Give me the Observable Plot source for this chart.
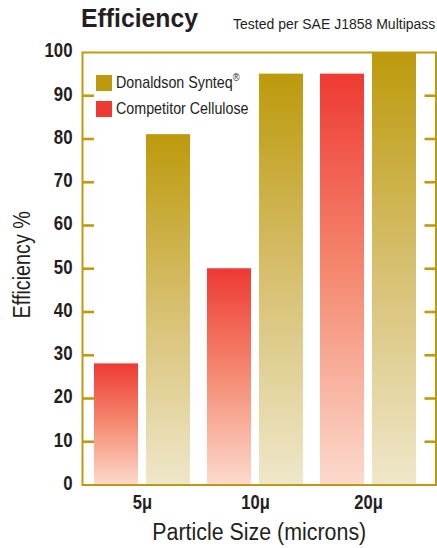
<!DOCTYPE html>
<html>
<head>
<meta charset="utf-8">
<script src="https://cdn.jsdelivr.net/npm/d3@7"></script>
<script src="https://cdn.jsdelivr.net/npm/@observablehq/plot@0.6"></script>
<style>
  html, body { margin: 0; padding: 0; background: #fff; }
  #wrap { position: relative; width: 437px; height: 548px; overflow: hidden;
          font-family: "Liberation Sans", Arial, sans-serif; color: #231f20; }
  #header { position: relative; height: 30px; }
  #title { position: absolute; left: 81px; top: 4.6px; font-size: 26.5px; font-weight: bold; line-height: 1;
           white-space: nowrap; transform: scaleX(0.935); transform-origin: 0 50%; }
  #subtitle { position: absolute; left: 233px; top: 17.4px; font-size: 14px; line-height: 1; white-space: nowrap; }
  #chart svg { display: block; }
  #legend { position: absolute; left: 96px; top: 73px; }
  #legend * { overflow: visible !important; text-overflow: clip !important; }
  #legend .lg-swatch { padding-bottom: 6px !important; font-size: 17px; line-height: 20px; color: #231f20; }
  #legend .lg-swatch svg { margin-right: 4px !important; }
  #legend .lg-swatches { margin: 0 !important; min-height: 0 !important; }
  #legend .lbl { display: inline-block; white-space: nowrap; transform: scaleX(0.84); transform-origin: 0 50%; }
  #legend .lbl sup { font-size: 0.65em; line-height: 0; vertical-align: 0.6em; }
</style>
</head>
<body>
<div id="wrap">
  <div id="header">
    <div id="title">Efficiency</div>
    <div id="subtitle">Tested per SAE J1858 Multipass</div>
  </div>
  <div id="chart"></div>
  <div id="legend"></div>
</div>
<script>
// ---- data ----
const categories = ["5μ", "10μ", "20μ"];
const seriesNames = ["Donaldson Synteq®", "Competitor Cellulose"];
const donaldson = [81, 95, 100];
const competitor = [28, 50, 95];
const yTicks = [0, 10, 20, 30, 40, 50, 60, 70, 80, 90, 100];
const innerTicks = [10, 20, 30, 40, 50, 60, 70, 80, 90];
const yLabel = "Efficiency %";
const xLabel = "Particle Size (microns)";

const gold = "#bd9a0b";
const red = "#ee3a33";
const frameColor = "#be9a10";
const ink = "#231f20";
const font = '"Liberation Sans", Arial, sans-serif';

const donaldsonData = categories.map((c, i) => ({category: c, value: donaldson[i]}));
const competitorData = categories.map((c, i) => ({category: c, value: competitor[i]}));

// gradient definitions (a function mark)
function gradients() {
  const defs = d3.create("svg:defs");
  const g1 = defs.append("linearGradient").attr("id", "gradD").attr("x1", 0).attr("y1", 0).attr("x2", 0).attr("y2", 1);
  g1.append("stop").attr("offset", "0%").attr("stop-color", "#bd9a0b");
  g1.append("stop").attr("offset", "50%").attr("stop-color", "#d7c070");
  g1.append("stop").attr("offset", "100%").attr("stop-color", "#efe7ca");
  const g2 = defs.append("linearGradient").attr("id", "gradC").attr("x1", 0).attr("y1", 0).attr("x2", 0).attr("y2", 1);
  g2.append("stop").attr("offset", "0%").attr("stop-color", "#ee3a33");
  g2.append("stop").attr("offset", "50%").attr("stop-color", "#f58b72");
  g2.append("stop").attr("offset", "100%").attr("stop-color", "#fcdacd");
  return defs.node();
}

const chart = Plot.plot({
  width: 437,
  height: 518,
  marginTop: 22,
  marginLeft: 82,
  marginRight: 1.5,
  marginBottom: 63.5,
  style: {fontFamily: font, color: ink, background: "#fff"},
  x: {domain: categories, paddingInner: 0.154, paddingOuter: 0.137, align: 0.387, axis: null},
  y: {domain: [0, 100], axis: null},
  marks: [
    gradients,
    Plot.barY(competitorData, {x: "category", y: "value", fill: "url(#gradC)", insetRight: 52}),
    Plot.barY(donaldsonData, {x: "category", y: "value", fill: "url(#gradD)", insetLeft: 52}),
    Plot.axisY(innerTicks, {anchor: "left", tickSize: -12, stroke: frameColor, strokeWidth: 2.6, tickFormat: () => "", label: null}),
    Plot.axisY(innerTicks, {anchor: "right", tickSize: -12, stroke: frameColor, strokeWidth: 2.6, tickFormat: () => "", label: null}),
    Plot.axisY(yTicks, {anchor: "left", tickSize: 0, tickPadding: 10, fontSize: 20, fontWeight: "bold", fill: ink, dy: -1.5, label: null}),
    Plot.axisX({anchor: "bottom", tickSize: 0, tickPadding: 10.5, fontSize: 19.5, fontWeight: "bold", fill: ink, label: null}),
    Plot.frame({stroke: frameColor, strokeWidth: 2}),
    Plot.text([yLabel], {frameAnchor: "left", rotate: -90, dx: -59.4, dy: -4, textAnchor: "middle", lineAnchor: "middle", fontSize: 23, fill: ink}),
    Plot.text([xLabel], {frameAnchor: "bottom", dy: 48, textAnchor: "middle", lineAnchor: "middle", fontSize: 23, fill: ink})
  ]
});
document.getElementById("chart").appendChild(chart);

// condense the SVG texts to match the narrow typeface of the reference
const squeeze = (t) => {
  if (t === yLabel) return 0.86;
  if (t === xLabel) return 0.93;
  if (/μ$/.test(t)) return 0.85;
  if (/^\d+$/.test(t)) return 0.84;
  return 1;
};
d3.select(chart).selectAll("text").each(function () {
  const t = this.textContent.trim();
  const f = squeeze(t);
  if (f !== 1 && t !== "") {
    const len = this.getComputedTextLength();
    this.setAttribute("textLength", (len * f).toFixed(2));
    this.setAttribute("lengthAdjust", "spacingAndGlyphs");
  }
});

const legend = Plot.legend({
  color: {type: "categorical", domain: seriesNames, range: [gold, red]},
  legend: "swatches",
  columns: 1,
  swatchSize: 16,
  className: "lg",
  style: {fontFamily: font, fontSize: "17px", color: ink}
});
document.getElementById("legend").appendChild(legend);

// wrap legend label text nodes so they can be condensed; superscript the ®
const walker = document.createTreeWalker(legend, NodeFilter.SHOW_TEXT);
const nodes = [];
while (walker.nextNode()) {
  const n = walker.currentNode;
  if (n.parentNode.closest("svg") || n.parentNode.tagName === "STYLE") continue;
  if (n.nodeValue.trim()) nodes.push(n);
}
nodes.forEach((n) => {
  const span = document.createElement("span");
  span.className = "lbl";
  const txt = n.nodeValue;
  if (txt.includes("®")) {
    span.append(txt.replace("®", ""));
    const sup = document.createElement("sup");
    sup.textContent = "®";
    span.append(sup);
  } else {
    span.textContent = txt;
  }
  n.parentNode.replaceChild(span, n);
});
</script>
</body>
</html>
